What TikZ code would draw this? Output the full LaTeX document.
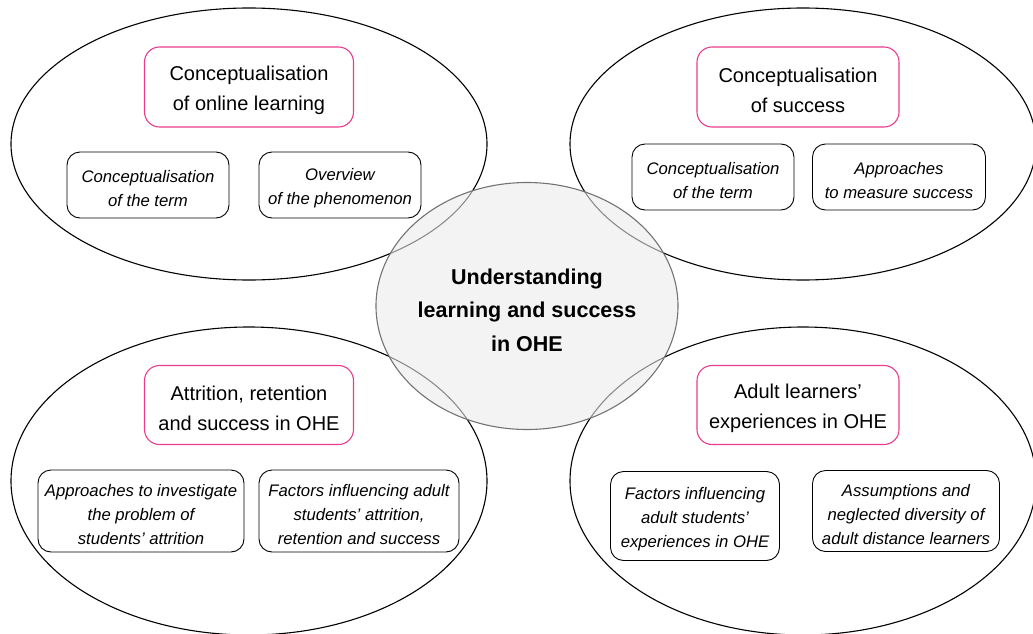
\documentclass[tikz,border=0pt]{standalone}
\usepackage{fontspec}
\setmainfont{Liberation Sans}
\usetikzlibrary{shapes.geometric}

\definecolor{titlepink}{RGB}{234,60,140}
\newcommand\topgap{\rule{0pt}{1.1em}}

\tikzset{
  area/.style={draw=black, line width=1.1pt, ellipse, inner sep=0pt},
  hub/.style={draw=black!55, line width=1.1pt, ellipse, inner sep=-40pt,
    fill=black!8, fill opacity=0.6, text opacity=1},
  titlebox/.style={draw=titlepink, line width=1.1pt, rounded corners=15pt,
    align=center, inner sep=0pt, font=\fontsize{20}{30}\selectfont},
  topicbox/.style={draw=black, line width=0.9pt, rounded corners=13pt,
    align=center, inner sep=0pt, font=\fontsize{16.7}{24}\selectfont\itshape}
}

\begin{document}
\begin{tikzpicture}[x=1pt, y=-1pt]
  \useasboundingbox (0,0) rectangle (1033,634);

  % the four areas
  \node[area, minimum width=476pt, minimum height=272pt] (online) at (249,144) {};
  \node[area, minimum width=466pt, minimum height=272pt] (success) at (803,144) {};
  \node[area, minimum width=476pt, minimum height=308pt] (attrition) at (249,481) {};
  \node[area, minimum width=466pt, minimum height=308pt] (adult) at (803,481) {};

  % centre
  \node[hub, minimum width=302pt, minimum height=247pt,
    font=\fontsize{21.5}{33.5}\selectfont\bfseries, align=center] (centre) at (527,306)
    {\topgap Understanding\\learning and success\\in OHE};

  % top left
  \node[titlebox, minimum width=209pt, minimum height=80pt] (onlinetitle) at (249,87)
    {\topgap Conceptualisation\\of online learning};
  \node[topicbox, minimum width=162pt, minimum height=66pt] (onlineterm) at (148,185)
    {\topgap Conceptualisation\\of the term};
  \node[topicbox, minimum width=162pt, minimum height=66pt] (onlineview) at (340,185)
    {\topgap Overview\\of the phenomenon};

  % top right
  \node[titlebox, minimum width=202pt, minimum height=80pt] (successtitle) at (798,87)
    {\topgap Conceptualisation\\of success};
  \node[topicbox, minimum width=162pt, minimum height=66pt] (successterm) at (713,177)
    {\topgap Conceptualisation\\of the term};
  \node[topicbox, minimum width=173pt, minimum height=66pt] (successmeasure) at (899,177)
    {\topgap Approaches\\to measure success};

  % bottom left
  \node[titlebox, minimum width=209pt, minimum height=79pt] (attritiontitle) at (249,405)
    {\topgap Attrition, retention\\and success in OHE};
  \node[topicbox, minimum width=206pt, minimum height=82pt] (attritionapproach) at (141,511)
    {\topgap Approaches to investigate\\the problem of\\students’ attrition};
  \node[topicbox, minimum width=200pt, minimum height=82pt] (attritionfactor) at (359,511)
    {\topgap Factors influencing adult\\students’ attrition,\\retention and success};

  % bottom right
  \node[titlebox, minimum width=202pt, minimum height=79pt] (adulttitle) at (798,405)
    {\topgap Adult learners’\\experiences in OHE};
  \node[topicbox, minimum width=169pt, minimum height=89pt] (adultfactor) at (695,516)
    {\topgap Factors influencing\\adult students’\\experiences in OHE};
  \node[topicbox, minimum width=187pt, minimum height=81pt] (adultdiversity) at (906,511)
    {\topgap Assumptions and\\neglected diversity of\\adult distance learners};
\end{tikzpicture}
\end{document}
